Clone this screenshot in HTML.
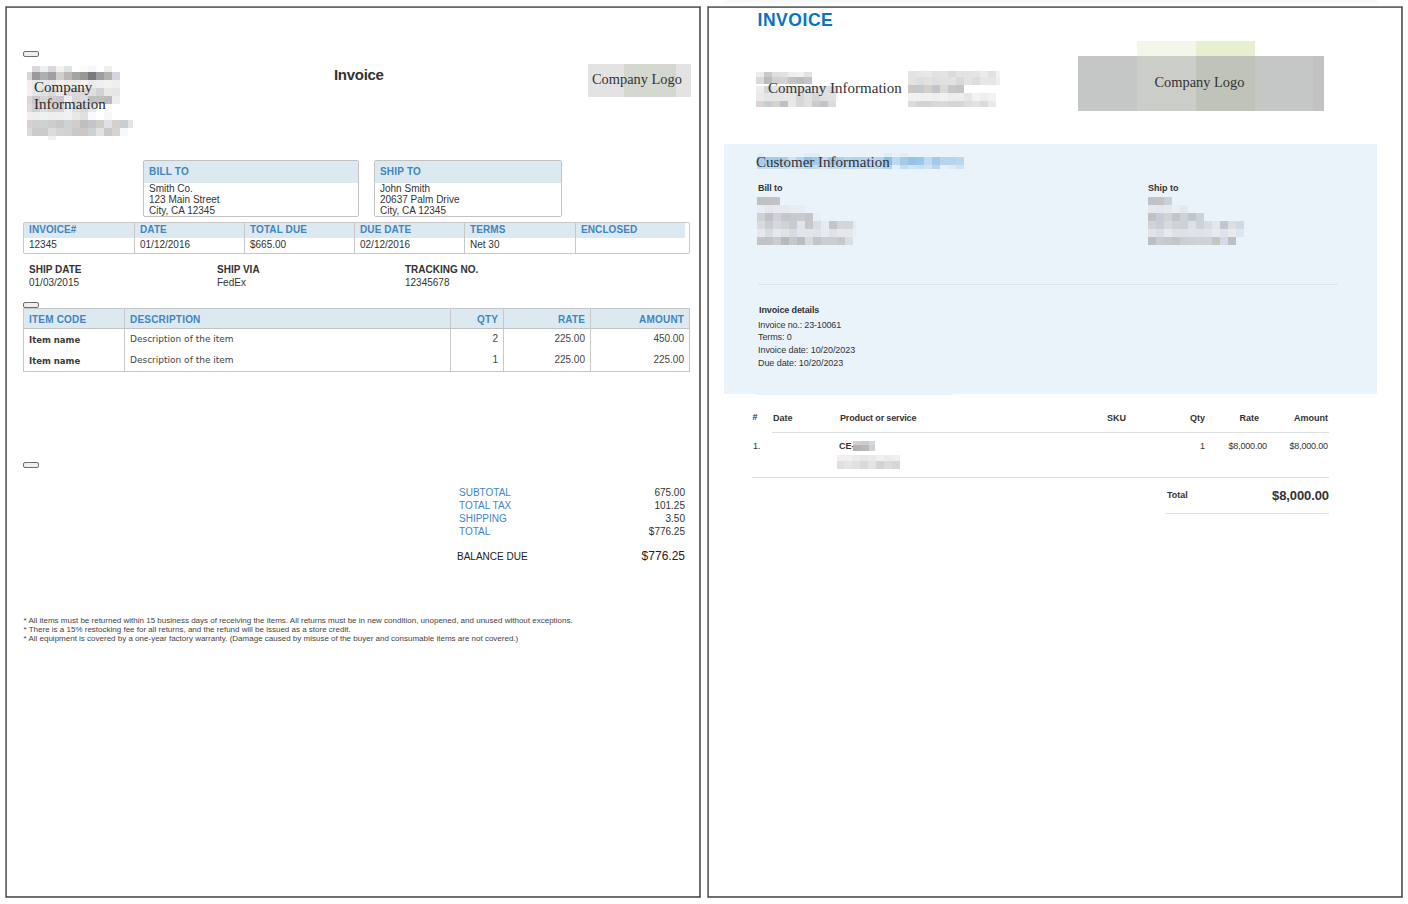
<!DOCTYPE html>
<html><head><meta charset="utf-8"><title>Invoice</title>
<style>
html,body{margin:0;padding:0;background:#fff;width:1408px;height:904px;overflow:hidden;position:relative}
.t{position:absolute;white-space:nowrap}
.r{position:absolute}
sup{line-height:0}
</style></head><body>
<div class="r" style="left:5px;top:6px;width:696px;height:892px;border:1px solid;border-color:#888 #727272 #727272 #888;border-radius:1px;box-sizing:border-box"></div>
<div class="r" style="left:6px;top:7px;width:694px;height:890px;border:1px solid #6a6a6a;box-sizing:border-box"></div>
<div class="r" style="left:6px;top:7px;width:1px;height:1px;background:#4a4a4a"></div>
<div class="r" style="left:699px;top:7px;width:1px;height:1px;background:#4a4a4a"></div>
<div class="r" style="left:6px;top:896px;width:1px;height:1px;background:#4a4a4a"></div>
<div class="r" style="left:699px;top:896px;width:1px;height:1px;background:#4a4a4a"></div>
<div class="r" style="left:707px;top:6px;width:696px;height:892px;border:1px solid;border-color:#888 #727272 #727272 #888;border-radius:1px;box-sizing:border-box"></div>
<div class="r" style="left:708px;top:7px;width:694px;height:890px;border:1px solid #6a6a6a;box-sizing:border-box"></div>
<div class="r" style="left:708px;top:7px;width:1px;height:1px;background:#4a4a4a"></div>
<div class="r" style="left:1401px;top:7px;width:1px;height:1px;background:#4a4a4a"></div>
<div class="r" style="left:708px;top:896px;width:1px;height:1px;background:#4a4a4a"></div>
<div class="r" style="left:1401px;top:896px;width:1px;height:1px;background:#4a4a4a"></div>
<div class="r" style="left:23px;top:51px;width:16px;height:6px;border:1px solid #6e6e6e;border-radius:2px;background:#efefef;box-sizing:border-box"></div>
<div class="r" style="left:23px;top:302px;width:16px;height:6px;border:1px solid #6e6e6e;border-radius:2px;background:#efefef;box-sizing:border-box"></div>
<div class="r" style="left:23px;top:462px;width:16px;height:6px;border:1px solid #6e6e6e;border-radius:2px;background:#efefef;box-sizing:border-box"></div>
<div class="r" style="left:32px;top:66px;width:8px;height:6px;background:#d9d7d9"></div>
<div class="r" style="left:40px;top:66px;width:8px;height:6px;background:#eef0f0"></div>
<div class="r" style="left:48px;top:66px;width:8px;height:6px;background:#d8d8d8"></div>
<div class="r" style="left:56px;top:66px;width:8px;height:6px;background:#f4f1ee"></div>
<div class="r" style="left:64px;top:66px;width:8px;height:6px;background:#dfe3e6"></div>
<div class="r" style="left:80px;top:66px;width:8px;height:6px;background:#fcfbfa"></div>
<div class="r" style="left:88px;top:66px;width:8px;height:6px;background:#f5f6f8"></div>
<div class="r" style="left:104px;top:66px;width:8px;height:6px;background:#efefee"></div>
<div class="r" style="left:27px;top:72px;width:5px;height:8px;background:#d9d5d4"></div>
<div class="r" style="left:32px;top:72px;width:8px;height:8px;background:#9c989c"></div>
<div class="r" style="left:40px;top:72px;width:8px;height:8px;background:#aeafb1"></div>
<div class="r" style="left:48px;top:72px;width:8px;height:8px;background:#a0a0a2"></div>
<div class="r" style="left:56px;top:72px;width:8px;height:8px;background:#d0cfcd"></div>
<div class="r" style="left:64px;top:72px;width:8px;height:8px;background:#bcb7b4"></div>
<div class="r" style="left:72px;top:72px;width:8px;height:8px;background:#a3a5a4"></div>
<div class="r" style="left:80px;top:72px;width:8px;height:8px;background:#9a9897"></div>
<div class="r" style="left:88px;top:72px;width:8px;height:8px;background:#7a7a7c"></div>
<div class="r" style="left:96px;top:72px;width:8px;height:8px;background:#9d9ea0"></div>
<div class="r" style="left:104px;top:72px;width:8px;height:8px;background:#b0b2ae"></div>
<div class="r" style="left:112px;top:72px;width:8px;height:8px;background:#d5d5df"></div>
<div class="r" style="left:27px;top:80px;width:5px;height:8px;background:#f3eeed"></div>
<div class="r" style="left:32px;top:80px;width:8px;height:8px;background:#e6e9eb"></div>
<div class="r" style="left:40px;top:80px;width:8px;height:8px;background:#e8e8e8"></div>
<div class="r" style="left:48px;top:80px;width:8px;height:8px;background:#e6e6e8"></div>
<div class="r" style="left:56px;top:80px;width:8px;height:8px;background:#efefef"></div>
<div class="r" style="left:64px;top:80px;width:8px;height:8px;background:#ebebeb"></div>
<div class="r" style="left:72px;top:80px;width:8px;height:8px;background:#ececec"></div>
<div class="r" style="left:80px;top:80px;width:8px;height:8px;background:#f2f2f3"></div>
<div class="r" style="left:88px;top:80px;width:8px;height:8px;background:#ebebeb"></div>
<div class="r" style="left:96px;top:80px;width:8px;height:8px;background:#eeeff1"></div>
<div class="r" style="left:104px;top:80px;width:8px;height:8px;background:#f2f2f0"></div>
<div class="r" style="left:112px;top:80px;width:8px;height:8px;background:#efeff1"></div>
<div class="r" style="left:27px;top:88px;width:5px;height:8px;background:#f7eeee"></div>
<div class="r" style="left:32px;top:88px;width:8px;height:8px;background:#e3e7ea"></div>
<div class="r" style="left:40px;top:88px;width:8px;height:8px;background:#e2e1df"></div>
<div class="r" style="left:48px;top:88px;width:8px;height:8px;background:#d9dadf"></div>
<div class="r" style="left:56px;top:88px;width:8px;height:8px;background:#e9e9e7"></div>
<div class="r" style="left:64px;top:88px;width:8px;height:8px;background:#dadadc"></div>
<div class="r" style="left:72px;top:88px;width:8px;height:8px;background:#d8d9dd"></div>
<div class="r" style="left:80px;top:88px;width:8px;height:8px;background:#dadadc"></div>
<div class="r" style="left:88px;top:88px;width:8px;height:8px;background:#dfdedb"></div>
<div class="r" style="left:96px;top:88px;width:8px;height:8px;background:#d2d2d4"></div>
<div class="r" style="left:104px;top:88px;width:8px;height:8px;background:#e7e8e7"></div>
<div class="r" style="left:112px;top:88px;width:8px;height:8px;background:#e6e6e8"></div>
<div class="r" style="left:27px;top:96px;width:5px;height:8px;background:#dcd7d7"></div>
<div class="r" style="left:32px;top:96px;width:8px;height:8px;background:#c9c8ca"></div>
<div class="r" style="left:40px;top:96px;width:8px;height:8px;background:#d2d6d8"></div>
<div class="r" style="left:48px;top:96px;width:8px;height:8px;background:#cfcdca"></div>
<div class="r" style="left:56px;top:96px;width:8px;height:8px;background:#c8c6d2"></div>
<div class="r" style="left:64px;top:96px;width:8px;height:8px;background:#eeeeee"></div>
<div class="r" style="left:72px;top:96px;width:8px;height:8px;background:#d5d5d5"></div>
<div class="r" style="left:80px;top:96px;width:8px;height:8px;background:#dedadb"></div>
<div class="r" style="left:88px;top:96px;width:8px;height:8px;background:#c0c0c0"></div>
<div class="r" style="left:96px;top:96px;width:8px;height:8px;background:#c0c0c0"></div>
<div class="r" style="left:104px;top:96px;width:8px;height:8px;background:#bcbbc1"></div>
<div class="r" style="left:112px;top:96px;width:8px;height:8px;background:#ebeeee"></div>
<div class="r" style="left:27px;top:104px;width:5px;height:8px;background:#e1dcdb"></div>
<div class="r" style="left:32px;top:104px;width:8px;height:8px;background:#cdd0d3"></div>
<div class="r" style="left:40px;top:104px;width:8px;height:8px;background:#dcdde0"></div>
<div class="r" style="left:48px;top:104px;width:8px;height:8px;background:#d6d3d1"></div>
<div class="r" style="left:56px;top:104px;width:8px;height:8px;background:#d3d4d9"></div>
<div class="r" style="left:64px;top:104px;width:8px;height:8px;background:#f2eeed"></div>
<div class="r" style="left:72px;top:104px;width:8px;height:8px;background:#dcdde2"></div>
<div class="r" style="left:80px;top:104px;width:8px;height:8px;background:#d8d8d6"></div>
<div class="r" style="left:88px;top:104px;width:8px;height:8px;background:#e7e7e7"></div>
<div class="r" style="left:27px;top:112px;width:5px;height:8px;background:#efefef"></div>
<div class="r" style="left:32px;top:112px;width:8px;height:8px;background:#eeeeee"></div>
<div class="r" style="left:40px;top:112px;width:8px;height:8px;background:#f0f1f1"></div>
<div class="r" style="left:48px;top:112px;width:8px;height:8px;background:#efeeed"></div>
<div class="r" style="left:56px;top:112px;width:8px;height:8px;background:#efefef"></div>
<div class="r" style="left:64px;top:112px;width:8px;height:8px;background:#f1f1f1"></div>
<div class="r" style="left:72px;top:112px;width:8px;height:8px;background:#e8e8e8"></div>
<div class="r" style="left:80px;top:112px;width:8px;height:8px;background:#e0e0e0"></div>
<div class="r" style="left:88px;top:112px;width:8px;height:8px;background:#f8f9fb"></div>
<div class="r" style="left:104px;top:112px;width:8px;height:8px;background:#f7f7f7"></div>
<div class="r" style="left:27px;top:120px;width:5px;height:8px;background:#dacfd3"></div>
<div class="r" style="left:32px;top:120px;width:8px;height:8px;background:#d0d0d0"></div>
<div class="r" style="left:40px;top:120px;width:8px;height:8px;background:#ced2d3"></div>
<div class="r" style="left:48px;top:120px;width:8px;height:8px;background:#cdcbcc"></div>
<div class="r" style="left:56px;top:120px;width:8px;height:8px;background:#c8c8c8"></div>
<div class="r" style="left:64px;top:120px;width:8px;height:8px;background:#ced2d4"></div>
<div class="r" style="left:72px;top:120px;width:8px;height:8px;background:#d0cdcc"></div>
<div class="r" style="left:80px;top:120px;width:8px;height:8px;background:#bfbfbf"></div>
<div class="r" style="left:88px;top:120px;width:8px;height:8px;background:#c6c4c9"></div>
<div class="r" style="left:96px;top:120px;width:8px;height:8px;background:#d0ccca"></div>
<div class="r" style="left:104px;top:120px;width:8px;height:8px;background:#e0e0e6"></div>
<div class="r" style="left:112px;top:120px;width:8px;height:8px;background:#d3d1cf"></div>
<div class="r" style="left:120px;top:120px;width:8px;height:8px;background:#c9ced2"></div>
<div class="r" style="left:128px;top:120px;width:5px;height:8px;background:#e3e4e6"></div>
<div class="r" style="left:27px;top:128px;width:5px;height:8px;background:#dddcda"></div>
<div class="r" style="left:32px;top:128px;width:8px;height:8px;background:#cbcbcb"></div>
<div class="r" style="left:40px;top:128px;width:8px;height:8px;background:#cacbcd"></div>
<div class="r" style="left:48px;top:128px;width:8px;height:8px;background:#dfdbdc"></div>
<div class="r" style="left:56px;top:128px;width:8px;height:8px;background:#d4d4d4"></div>
<div class="r" style="left:64px;top:128px;width:8px;height:8px;background:#cfd3d4"></div>
<div class="r" style="left:72px;top:128px;width:8px;height:8px;background:#c9c9cb"></div>
<div class="r" style="left:80px;top:128px;width:8px;height:8px;background:#cdc8c5"></div>
<div class="r" style="left:88px;top:128px;width:8px;height:8px;background:#cdd1d2"></div>
<div class="r" style="left:96px;top:128px;width:8px;height:8px;background:#e3e2e0"></div>
<div class="r" style="left:104px;top:128px;width:8px;height:8px;background:#c9c9c9"></div>
<div class="r" style="left:112px;top:128px;width:8px;height:8px;background:#d5d4d2"></div>
<div class="r" style="left:120px;top:128px;width:8px;height:8px;background:#f5f9fc"></div>
<div class="r" style="left:48px;top:136px;width:8px;height:4px;background:#f0f0f0"></div>
<div class="t" style="left:34px;top:80px;font-family:'Liberation Serif', 'Times New Roman', serif;font-size:15px;line-height:15px;font-weight:normal;color:#2a2a2a;">Company</div>
<div class="t" style="left:34px;top:97px;font-family:'Liberation Serif', 'Times New Roman', serif;font-size:15px;line-height:15px;font-weight:normal;color:#2a2a2a;">Information</div>
<div class="t" style="left:334px;top:67px;font-family:'Liberation Sans', Arial, sans-serif;font-size:15px;line-height:15px;font-weight:bold;color:#333;letter-spacing:-0.3px">Invoice</div>
<div class="r" style="left:588px;top:64px;width:103px;height:33px;background:#e3e3e3"></div>
<div class="r" style="left:624px;top:64px;width:52px;height:33px;background:#d5d8d0"></div>
<div class="t" style="left:592px;top:72px;font-family:'Liberation Serif', 'Times New Roman', serif;font-size:14.4px;line-height:14.4px;font-weight:normal;color:#333;">Company Logo</div>
<div class="r" style="left:143px;top:160px;width:216px;height:57px;border:1px solid #c2c2c2;border-radius:2px;box-sizing:border-box;background:#fff"></div>
<div class="r" style="left:144px;top:161px;width:214px;height:22px;background:#dde9f1"></div>
<div class="t" style="left:149px;top:167px;font-family:'Liberation Sans', Arial, sans-serif;font-size:10px;line-height:10px;font-weight:bold;color:#4185bf;letter-spacing:0.2px">BILL TO</div>
<div class="t" style="left:149px;top:184px;font-family:'Liberation Sans', Arial, sans-serif;font-size:10px;line-height:10px;font-weight:normal;color:#333;">Smith Co.</div>
<div class="t" style="left:149px;top:195px;font-family:'Liberation Sans', Arial, sans-serif;font-size:10px;line-height:10px;font-weight:normal;color:#333;">123 Main Street</div>
<div class="t" style="left:149px;top:206px;font-family:'Liberation Sans', Arial, sans-serif;font-size:10px;line-height:10px;font-weight:normal;color:#333;">City, CA 12345</div>
<div class="r" style="left:374px;top:160px;width:188px;height:57px;border:1px solid #c2c2c2;border-radius:2px;box-sizing:border-box;background:#fff"></div>
<div class="r" style="left:375px;top:161px;width:186px;height:22px;background:#dde9f1"></div>
<div class="t" style="left:380px;top:167px;font-family:'Liberation Sans', Arial, sans-serif;font-size:10px;line-height:10px;font-weight:bold;color:#4185bf;letter-spacing:0.2px">SHIP TO</div>
<div class="t" style="left:380px;top:184px;font-family:'Liberation Sans', Arial, sans-serif;font-size:10px;line-height:10px;font-weight:normal;color:#333;">John Smith</div>
<div class="t" style="left:380px;top:195px;font-family:'Liberation Sans', Arial, sans-serif;font-size:10px;line-height:10px;font-weight:normal;color:#333;">20637 Palm Drive</div>
<div class="t" style="left:380px;top:206px;font-family:'Liberation Sans', Arial, sans-serif;font-size:10px;line-height:10px;font-weight:normal;color:#333;">City, CA 12345</div>
<div class="r" style="left:23px;top:222px;width:667px;height:32px;border:1px solid #c9c9c9;border-radius:2px;box-sizing:border-box"></div>
<div class="r" style="left:24px;top:223px;width:661px;height:15px;background:#dde9f1"></div>
<div class="t" style="left:29px;top:225px;font-family:'Liberation Sans', Arial, sans-serif;font-size:10px;line-height:10px;font-weight:bold;color:#4185bf;letter-spacing:0.1px">INVOICE#</div>
<div class="t" style="left:29px;top:240px;font-family:'Liberation Sans', Arial, sans-serif;font-size:10px;line-height:10px;font-weight:normal;color:#333;">12345</div>
<div class="r" style="left:134px;top:223px;width:1px;height:30px;background:#c8c8c8"></div>
<div class="t" style="left:140px;top:225px;font-family:'Liberation Sans', Arial, sans-serif;font-size:10px;line-height:10px;font-weight:bold;color:#4185bf;letter-spacing:0.1px">DATE</div>
<div class="t" style="left:140px;top:240px;font-family:'Liberation Sans', Arial, sans-serif;font-size:10px;line-height:10px;font-weight:normal;color:#333;">01/12/2016</div>
<div class="r" style="left:244px;top:223px;width:1px;height:30px;background:#c8c8c8"></div>
<div class="t" style="left:250px;top:225px;font-family:'Liberation Sans', Arial, sans-serif;font-size:10px;line-height:10px;font-weight:bold;color:#4185bf;letter-spacing:0.1px">TOTAL DUE</div>
<div class="t" style="left:250px;top:240px;font-family:'Liberation Sans', Arial, sans-serif;font-size:10px;line-height:10px;font-weight:normal;color:#333;">$665.00</div>
<div class="r" style="left:354px;top:223px;width:1px;height:30px;background:#c8c8c8"></div>
<div class="t" style="left:360px;top:225px;font-family:'Liberation Sans', Arial, sans-serif;font-size:10px;line-height:10px;font-weight:bold;color:#4185bf;letter-spacing:0.1px">DUE DATE</div>
<div class="t" style="left:360px;top:240px;font-family:'Liberation Sans', Arial, sans-serif;font-size:10px;line-height:10px;font-weight:normal;color:#333;">02/12/2016</div>
<div class="r" style="left:464px;top:223px;width:1px;height:30px;background:#c8c8c8"></div>
<div class="t" style="left:470px;top:225px;font-family:'Liberation Sans', Arial, sans-serif;font-size:10px;line-height:10px;font-weight:bold;color:#4185bf;letter-spacing:0.1px">TERMS</div>
<div class="t" style="left:470px;top:240px;font-family:'Liberation Sans', Arial, sans-serif;font-size:10px;line-height:10px;font-weight:normal;color:#333;">Net 30</div>
<div class="r" style="left:575px;top:223px;width:1px;height:30px;background:#c8c8c8"></div>
<div class="t" style="left:581px;top:225px;font-family:'Liberation Sans', Arial, sans-serif;font-size:10px;line-height:10px;font-weight:bold;color:#4185bf;letter-spacing:0.1px">ENCLOSED</div>
<div class="t" style="left:581px;top:240px;font-family:'Liberation Sans', Arial, sans-serif;font-size:10px;line-height:10px;font-weight:normal;color:#333;"></div>
<div class="t" style="left:29px;top:265px;font-family:'Liberation Sans', Arial, sans-serif;font-size:10px;line-height:10px;font-weight:bold;color:#333;">SHIP DATE</div>
<div class="t" style="left:29px;top:278px;font-family:'Liberation Sans', Arial, sans-serif;font-size:10px;line-height:10px;font-weight:normal;color:#333;">01/03/2015</div>
<div class="t" style="left:217px;top:265px;font-family:'Liberation Sans', Arial, sans-serif;font-size:10px;line-height:10px;font-weight:bold;color:#333;">SHIP VIA</div>
<div class="t" style="left:217px;top:278px;font-family:'Liberation Sans', Arial, sans-serif;font-size:10px;line-height:10px;font-weight:normal;color:#333;">FedEx</div>
<div class="t" style="left:405px;top:265px;font-family:'Liberation Sans', Arial, sans-serif;font-size:10px;line-height:10px;font-weight:bold;color:#333;">TRACKING NO.</div>
<div class="t" style="left:405px;top:278px;font-family:'Liberation Sans', Arial, sans-serif;font-size:10px;line-height:10px;font-weight:normal;color:#333;">12345678</div>
<div class="r" style="left:23px;top:308px;width:667px;height:64px;border:1px solid #c6c6c6;box-sizing:border-box"></div>
<div class="r" style="left:24px;top:309px;width:665px;height:19px;background:#dde9f1;border-bottom:1px solid #c2c2c2"></div>
<div class="r" style="left:124px;top:309px;width:1px;height:62px;background:#c8c8c8"></div>
<div class="r" style="left:450px;top:309px;width:1px;height:62px;background:#c8c8c8"></div>
<div class="r" style="left:503px;top:309px;width:1px;height:62px;background:#c8c8c8"></div>
<div class="r" style="left:590px;top:309px;width:1px;height:62px;background:#c8c8c8"></div>
<div class="t" style="left:29px;top:315px;font-family:'Liberation Sans', Arial, sans-serif;font-size:10px;line-height:10px;font-weight:bold;color:#4185bf;letter-spacing:0.2px">ITEM CODE</div>
<div class="t" style="left:130px;top:315px;font-family:'Liberation Sans', Arial, sans-serif;font-size:10px;line-height:10px;font-weight:bold;color:#4185bf;letter-spacing:0.2px">DESCRIPTION</div>
<div class="t" style="right:910px;top:315px;font-family:'Liberation Sans', Arial, sans-serif;font-size:10px;line-height:10px;font-weight:bold;color:#4185bf;letter-spacing:0.2px;margin-right:-0.2px">QTY</div>
<div class="t" style="right:823px;top:315px;font-family:'Liberation Sans', Arial, sans-serif;font-size:10px;line-height:10px;font-weight:bold;color:#4185bf;letter-spacing:0.2px;margin-right:-0.2px">RATE</div>
<div class="t" style="right:724px;top:315px;font-family:'Liberation Sans', Arial, sans-serif;font-size:10px;line-height:10px;font-weight:bold;color:#4185bf;letter-spacing:0.2px;margin-right:-0.2px">AMOUNT</div>
<div class="t" style="left:29px;top:336px;font-family:'DejaVu Sans', sans-serif;font-size:8.5px;line-height:8.5px;font-weight:bold;color:#3a3a3a;">Item name</div>
<div class="t" style="left:130px;top:335px;font-family:'DejaVu Sans', sans-serif;font-size:9px;line-height:9px;font-weight:normal;color:#444;">Description of the item</div>
<div class="t" style="right:910px;top:334px;font-family:'Liberation Sans', Arial, sans-serif;font-size:10px;line-height:10px;font-weight:normal;color:#444;">2</div>
<div class="t" style="right:823px;top:334px;font-family:'Liberation Sans', Arial, sans-serif;font-size:10px;line-height:10px;font-weight:normal;color:#444;">225.00</div>
<div class="t" style="right:724px;top:334px;font-family:'Liberation Sans', Arial, sans-serif;font-size:10px;line-height:10px;font-weight:normal;color:#444;">450.00</div>
<div class="t" style="left:29px;top:357px;font-family:'DejaVu Sans', sans-serif;font-size:8.5px;line-height:8.5px;font-weight:bold;color:#3a3a3a;">Item name</div>
<div class="t" style="left:130px;top:356px;font-family:'DejaVu Sans', sans-serif;font-size:9px;line-height:9px;font-weight:normal;color:#444;">Description of the item</div>
<div class="t" style="right:910px;top:355px;font-family:'Liberation Sans', Arial, sans-serif;font-size:10px;line-height:10px;font-weight:normal;color:#444;">1</div>
<div class="t" style="right:823px;top:355px;font-family:'Liberation Sans', Arial, sans-serif;font-size:10px;line-height:10px;font-weight:normal;color:#444;">225.00</div>
<div class="t" style="right:724px;top:355px;font-family:'Liberation Sans', Arial, sans-serif;font-size:10px;line-height:10px;font-weight:normal;color:#444;">225.00</div>
<div class="t" style="left:459px;top:488px;font-family:'Liberation Sans', Arial, sans-serif;font-size:10px;line-height:10px;font-weight:normal;color:#4185bf;">SUBTOTAL</div>
<div class="t" style="right:723px;top:488px;font-family:'Liberation Sans', Arial, sans-serif;font-size:10px;line-height:10px;font-weight:normal;color:#333;">675.00</div>
<div class="t" style="left:459px;top:501px;font-family:'Liberation Sans', Arial, sans-serif;font-size:10px;line-height:10px;font-weight:normal;color:#4185bf;">TOTAL TAX</div>
<div class="t" style="right:723px;top:501px;font-family:'Liberation Sans', Arial, sans-serif;font-size:10px;line-height:10px;font-weight:normal;color:#333;">101.25</div>
<div class="t" style="left:459px;top:514px;font-family:'Liberation Sans', Arial, sans-serif;font-size:10px;line-height:10px;font-weight:normal;color:#4185bf;">SHIPPING</div>
<div class="t" style="right:723px;top:514px;font-family:'Liberation Sans', Arial, sans-serif;font-size:10px;line-height:10px;font-weight:normal;color:#333;">3.50</div>
<div class="t" style="left:459px;top:527px;font-family:'Liberation Sans', Arial, sans-serif;font-size:10px;line-height:10px;font-weight:normal;color:#4185bf;">TOTAL</div>
<div class="t" style="right:723px;top:527px;font-family:'Liberation Sans', Arial, sans-serif;font-size:10px;line-height:10px;font-weight:normal;color:#333;">$776.25</div>
<div class="t" style="left:457px;top:552px;font-family:'Liberation Sans', Arial, sans-serif;font-size:10px;line-height:10px;font-weight:normal;color:#222;">BALANCE DUE</div>
<div class="t" style="right:723px;top:550px;font-family:'Liberation Sans', Arial, sans-serif;font-size:12px;line-height:12px;font-weight:normal;color:#222;">$776.25</div>
<div class="t" style="left:23.5px;top:617px;font-family:'Liberation Sans', Arial, sans-serif;font-size:8px;line-height:8px;font-weight:normal;color:#444;">* All items must be returned within 15 business days of receiving the items. All returns must be in new condition, unopened, and unused without exceptions.</div>
<div class="t" style="left:23.5px;top:626px;font-family:'Liberation Sans', Arial, sans-serif;font-size:8px;line-height:8px;font-weight:normal;color:#444;">* There is a 15% restocking fee for all returns, and the refund will be issued as a store credit.</div>
<div class="t" style="left:23.5px;top:635px;font-family:'Liberation Sans', Arial, sans-serif;font-size:8px;line-height:8px;font-weight:normal;color:#444;">* All equipment is covered by a one-year factory warranty. (Damage caused by misuse of the buyer and consumable items are not covered.)</div>
<div class="r" style="left:724px;top:0px;width:653px;height:5px;background:linear-gradient(#f7f7f7,#f9f9f9 40%,#fdfdfd)"></div>
<div class="t" style="left:757.5px;top:12px;font-family:'Liberation Sans', Arial, sans-serif;font-size:17.5px;line-height:17.5px;font-weight:bold;color:#0a72c5;letter-spacing:0.55px">INVOICE</div>
<div class="r" style="left:756px;top:72px;width:8px;height:5px;background:#efecea"></div>
<div class="r" style="left:764px;top:72px;width:8px;height:5px;background:#c9cace"></div>
<div class="r" style="left:772px;top:72px;width:8px;height:5px;background:#dfdfdf"></div>
<div class="r" style="left:780px;top:72px;width:8px;height:5px;background:#dfe2e6"></div>
<div class="r" style="left:788px;top:72px;width:8px;height:5px;background:#efeeec"></div>
<div class="r" style="left:796px;top:72px;width:8px;height:5px;background:#eff3f6"></div>
<div class="r" style="left:804px;top:72px;width:8px;height:5px;background:#e3e3e5"></div>
<div class="r" style="left:756px;top:77px;width:8px;height:7px;background:#dcd8d5"></div>
<div class="r" style="left:764px;top:77px;width:8px;height:7px;background:#b9bbbf"></div>
<div class="r" style="left:772px;top:77px;width:8px;height:7px;background:#d0d1d3"></div>
<div class="r" style="left:780px;top:77px;width:8px;height:7px;background:#d6d2cf"></div>
<div class="r" style="left:788px;top:77px;width:8px;height:7px;background:#c2c2c2"></div>
<div class="r" style="left:796px;top:77px;width:8px;height:7px;background:#bdbcc1"></div>
<div class="r" style="left:804px;top:77px;width:8px;height:7px;background:#c0c4c7"></div>
<div class="r" style="left:756px;top:86px;width:8px;height:7px;background:#eeeded"></div>
<div class="r" style="left:764px;top:86px;width:8px;height:7px;background:#d6d6d6"></div>
<div class="r" style="left:772px;top:86px;width:8px;height:7px;background:#e3e4e6"></div>
<div class="r" style="left:780px;top:86px;width:8px;height:7px;background:#e0e2e6"></div>
<div class="r" style="left:788px;top:86px;width:8px;height:7px;background:#e4e6e8"></div>
<div class="r" style="left:796px;top:86px;width:8px;height:7px;background:#dcdee0"></div>
<div class="r" style="left:804px;top:86px;width:8px;height:7px;background:#e2e4e6"></div>
<div class="r" style="left:812px;top:86px;width:8px;height:7px;background:#e3e5e7"></div>
<div class="r" style="left:820px;top:86px;width:8px;height:7px;background:#dfe0e2"></div>
<div class="r" style="left:828px;top:86px;width:8px;height:7px;background:#dddbda"></div>
<div class="r" style="left:756px;top:93px;width:8px;height:8px;background:#ece8e8"></div>
<div class="r" style="left:764px;top:93px;width:8px;height:8px;background:#e3e6e6"></div>
<div class="r" style="left:772px;top:93px;width:8px;height:8px;background:#e4e6e6"></div>
<div class="r" style="left:780px;top:93px;width:8px;height:8px;background:#e5e6e6"></div>
<div class="r" style="left:788px;top:93px;width:8px;height:8px;background:#e6e6e6"></div>
<div class="r" style="left:796px;top:93px;width:8px;height:8px;background:#d6d6d6"></div>
<div class="r" style="left:804px;top:93px;width:8px;height:8px;background:#dfe0e2"></div>
<div class="r" style="left:812px;top:93px;width:8px;height:8px;background:#d6d6d6"></div>
<div class="r" style="left:820px;top:93px;width:8px;height:8px;background:#dfe0e2"></div>
<div class="r" style="left:828px;top:93px;width:8px;height:8px;background:#e3e1e0"></div>
<div class="r" style="left:836px;top:93px;width:3px;height:8px;background:#f2f8fc"></div>
<div class="r" style="left:756px;top:101px;width:8px;height:6px;background:#d7d6d4"></div>
<div class="r" style="left:764px;top:101px;width:8px;height:6px;background:#c9cdcf"></div>
<div class="r" style="left:772px;top:101px;width:8px;height:6px;background:#d6d2cf"></div>
<div class="r" style="left:780px;top:101px;width:8px;height:6px;background:#bdc0c4"></div>
<div class="r" style="left:788px;top:101px;width:8px;height:6px;background:#e8e8e8"></div>
<div class="r" style="left:796px;top:101px;width:8px;height:6px;background:#d5d9dc"></div>
<div class="r" style="left:804px;top:101px;width:8px;height:6px;background:#e0e0e0"></div>
<div class="r" style="left:812px;top:101px;width:8px;height:6px;background:#cecaca"></div>
<div class="r" style="left:820px;top:101px;width:8px;height:6px;background:#c3c4c8"></div>
<div class="r" style="left:828px;top:101px;width:8px;height:6px;background:#d6dce0"></div>
<div class="r" style="left:908px;top:71px;width:8px;height:6px;background:#e6e3e2"></div>
<div class="r" style="left:916px;top:71px;width:8px;height:6px;background:#e6e6e6"></div>
<div class="r" style="left:924px;top:71px;width:8px;height:6px;background:#e8e8e8"></div>
<div class="r" style="left:932px;top:71px;width:8px;height:6px;background:#e2e2e2"></div>
<div class="r" style="left:940px;top:71px;width:8px;height:6px;background:#e3e3e3"></div>
<div class="r" style="left:948px;top:71px;width:8px;height:6px;background:#dcdad9"></div>
<div class="r" style="left:956px;top:71px;width:8px;height:6px;background:#e2e3e5"></div>
<div class="r" style="left:964px;top:71px;width:8px;height:6px;background:#e3e3e3"></div>
<div class="r" style="left:972px;top:71px;width:8px;height:6px;background:#e4e5e7"></div>
<div class="r" style="left:980px;top:71px;width:8px;height:6px;background:#ebebeb"></div>
<div class="r" style="left:988px;top:71px;width:8px;height:6px;background:#e1e1e1"></div>
<div class="r" style="left:996px;top:71px;width:4px;height:6px;background:#f0f2f7"></div>
<div class="r" style="left:908px;top:77px;width:8px;height:8px;background:#e7e2e0"></div>
<div class="r" style="left:916px;top:77px;width:8px;height:8px;background:#dddee0"></div>
<div class="r" style="left:924px;top:77px;width:8px;height:8px;background:#e1e1e1"></div>
<div class="r" style="left:932px;top:77px;width:8px;height:8px;background:#dedede"></div>
<div class="r" style="left:940px;top:77px;width:8px;height:8px;background:#e0e1e3"></div>
<div class="r" style="left:948px;top:77px;width:8px;height:8px;background:#e4e2e1"></div>
<div class="r" style="left:956px;top:77px;width:8px;height:8px;background:#d9d9d9"></div>
<div class="r" style="left:964px;top:77px;width:8px;height:8px;background:#e3e3e5"></div>
<div class="r" style="left:972px;top:77px;width:8px;height:8px;background:#dddde0"></div>
<div class="r" style="left:980px;top:77px;width:8px;height:8px;background:#e7e7e7"></div>
<div class="r" style="left:988px;top:77px;width:8px;height:8px;background:#e5e6e8"></div>
<div class="r" style="left:996px;top:77px;width:4px;height:8px;background:#ededf0"></div>
<div class="r" style="left:908px;top:85px;width:8px;height:8px;background:#c8c7c6"></div>
<div class="r" style="left:916px;top:85px;width:8px;height:8px;background:#c6c8cb"></div>
<div class="r" style="left:924px;top:85px;width:8px;height:8px;background:#d1d0cc"></div>
<div class="r" style="left:932px;top:85px;width:8px;height:8px;background:#c3c4c9"></div>
<div class="r" style="left:940px;top:85px;width:8px;height:8px;background:#dcd8d5"></div>
<div class="r" style="left:948px;top:85px;width:8px;height:8px;background:#c6c7ca"></div>
<div class="r" style="left:956px;top:85px;width:8px;height:8px;background:#c1c5c8"></div>
<div class="r" style="left:908px;top:93px;width:8px;height:8px;background:#f2f1f0"></div>
<div class="r" style="left:916px;top:93px;width:8px;height:8px;background:#eff0f2"></div>
<div class="r" style="left:924px;top:93px;width:8px;height:8px;background:#f1f1f1"></div>
<div class="r" style="left:932px;top:93px;width:8px;height:8px;background:#efeeec"></div>
<div class="r" style="left:940px;top:93px;width:8px;height:8px;background:#f1f1f1"></div>
<div class="r" style="left:948px;top:93px;width:8px;height:8px;background:#eceeed"></div>
<div class="r" style="left:956px;top:93px;width:8px;height:8px;background:#eeeeec"></div>
<div class="r" style="left:964px;top:93px;width:8px;height:8px;background:#e6e6e6"></div>
<div class="r" style="left:972px;top:93px;width:8px;height:8px;background:#f2f4f3"></div>
<div class="r" style="left:980px;top:93px;width:8px;height:8px;background:#eeeeec"></div>
<div class="r" style="left:988px;top:93px;width:8px;height:8px;background:#f1f2f4"></div>
<div class="r" style="left:908px;top:101px;width:8px;height:6px;background:#dcdcdc"></div>
<div class="r" style="left:916px;top:101px;width:8px;height:6px;background:#d6d4d3"></div>
<div class="r" style="left:924px;top:101px;width:8px;height:6px;background:#d3d4d8"></div>
<div class="r" style="left:932px;top:101px;width:8px;height:6px;background:#dad8d7"></div>
<div class="r" style="left:940px;top:101px;width:8px;height:6px;background:#dadadc"></div>
<div class="r" style="left:948px;top:101px;width:8px;height:6px;background:#d5d6da"></div>
<div class="r" style="left:956px;top:101px;width:8px;height:6px;background:#d9d5d2"></div>
<div class="r" style="left:964px;top:101px;width:8px;height:6px;background:#dedee0"></div>
<div class="r" style="left:972px;top:101px;width:8px;height:6px;background:#dfe3e6"></div>
<div class="r" style="left:980px;top:101px;width:8px;height:6px;background:#dadada"></div>
<div class="r" style="left:988px;top:101px;width:8px;height:6px;background:#e8e9eb"></div>
<div class="t" style="left:768px;top:81px;font-family:'Liberation Serif', 'Times New Roman', serif;font-size:15px;line-height:15px;font-weight:normal;color:#333;">Company Information</div>
<div class="r" style="left:1137px;top:41px;width:59px;height:15px;background:#f3f7ea"></div>
<div class="r" style="left:1196px;top:41px;width:59px;height:15px;background:#e6efd0"></div>
<div class="r" style="left:1078px;top:56px;width:246px;height:55px;background:#c5c6c6"></div>
<div class="r" style="left:1137px;top:56px;width:59px;height:55px;background:#cbcec8"></div>
<div class="r" style="left:1196px;top:56px;width:59px;height:55px;background:#c0c3b9"></div>
<div class="r" style="left:1313px;top:56px;width:11px;height:55px;background:#c2c2c2"></div>
<div class="t" style="left:1154.5px;top:75px;font-family:'Liberation Serif', 'Times New Roman', serif;font-size:14.4px;line-height:14.4px;font-weight:normal;color:#333;">Company Logo</div>
<div class="r" style="left:724px;top:144px;width:653px;height:250px;background:#eaf2fa"></div>
<div class="r" style="left:757px;top:394px;width:196px;height:1px;background:#e9f1f9"></div>
<div class="r" style="left:757px;top:153px;width:7px;height:4px;background:#e0edf7"></div>
<div class="r" style="left:804px;top:153px;width:8px;height:4px;background:#e0edf7"></div>
<div class="r" style="left:812px;top:153px;width:8px;height:4px;background:#e0edf7"></div>
<div class="r" style="left:884px;top:153px;width:8px;height:4px;background:#e1edf7"></div>
<div class="r" style="left:892px;top:153px;width:8px;height:4px;background:#e8f1f9"></div>
<div class="r" style="left:900px;top:153px;width:8px;height:4px;background:#e1edf7"></div>
<div class="r" style="left:757px;top:157px;width:7px;height:8px;background:#a9cde9"></div>
<div class="r" style="left:764px;top:157px;width:8px;height:8px;background:#a5cbe8"></div>
<div class="r" style="left:772px;top:157px;width:8px;height:8px;background:#a2c9e8"></div>
<div class="r" style="left:780px;top:157px;width:8px;height:8px;background:#a9cde9"></div>
<div class="r" style="left:788px;top:157px;width:8px;height:8px;background:#d0e4f3"></div>
<div class="r" style="left:796px;top:157px;width:8px;height:8px;background:#b7d6ee"></div>
<div class="r" style="left:804px;top:157px;width:8px;height:8px;background:#92c3e6"></div>
<div class="r" style="left:812px;top:157px;width:8px;height:8px;background:#a3cbea"></div>
<div class="r" style="left:820px;top:157px;width:8px;height:8px;background:#c5dcf0"></div>
<div class="r" style="left:828px;top:157px;width:8px;height:8px;background:#9dc7e8"></div>
<div class="r" style="left:836px;top:157px;width:8px;height:8px;background:#a9cde9"></div>
<div class="r" style="left:844px;top:157px;width:8px;height:8px;background:#b8d6ee"></div>
<div class="r" style="left:852px;top:157px;width:8px;height:8px;background:#b3d3ec"></div>
<div class="r" style="left:860px;top:157px;width:8px;height:8px;background:#b5d4ed"></div>
<div class="r" style="left:868px;top:157px;width:8px;height:8px;background:#b7d5ee"></div>
<div class="r" style="left:876px;top:157px;width:8px;height:8px;background:#b7d5ee"></div>
<div class="r" style="left:884px;top:157px;width:8px;height:8px;background:#8fc0e4"></div>
<div class="r" style="left:892px;top:157px;width:8px;height:8px;background:#bcd9ef"></div>
<div class="r" style="left:900px;top:157px;width:8px;height:8px;background:#a6cbe8"></div>
<div class="r" style="left:908px;top:157px;width:8px;height:8px;background:#93c4e7"></div>
<div class="r" style="left:916px;top:157px;width:8px;height:8px;background:#9ac8e9"></div>
<div class="r" style="left:924px;top:157px;width:8px;height:8px;background:#c3d9ef"></div>
<div class="r" style="left:932px;top:157px;width:8px;height:8px;background:#a3cae8"></div>
<div class="r" style="left:940px;top:157px;width:8px;height:8px;background:#b6d4ec"></div>
<div class="r" style="left:948px;top:157px;width:8px;height:8px;background:#b6d4ec"></div>
<div class="r" style="left:956px;top:157px;width:8px;height:8px;background:#b9d8ef"></div>
<div class="r" style="left:757px;top:165px;width:7px;height:4px;background:#c0dbef"></div>
<div class="r" style="left:764px;top:165px;width:8px;height:4px;background:#c2dcf0"></div>
<div class="r" style="left:772px;top:165px;width:8px;height:4px;background:#c2dcf0"></div>
<div class="r" style="left:780px;top:165px;width:8px;height:4px;background:#c4ddf0"></div>
<div class="r" style="left:788px;top:165px;width:8px;height:4px;background:#cfe4f4"></div>
<div class="r" style="left:796px;top:165px;width:8px;height:4px;background:#c6def1"></div>
<div class="r" style="left:804px;top:165px;width:8px;height:4px;background:#bcd8ee"></div>
<div class="r" style="left:812px;top:165px;width:8px;height:4px;background:#c2dcf0"></div>
<div class="r" style="left:820px;top:165px;width:8px;height:4px;background:#d8e8f5"></div>
<div class="r" style="left:828px;top:165px;width:8px;height:4px;background:#c0daef"></div>
<div class="r" style="left:836px;top:165px;width:8px;height:4px;background:#c2dcf0"></div>
<div class="r" style="left:844px;top:165px;width:8px;height:4px;background:#c8dff2"></div>
<div class="r" style="left:852px;top:165px;width:8px;height:4px;background:#c4ddf0"></div>
<div class="r" style="left:860px;top:165px;width:8px;height:4px;background:#c4ddf0"></div>
<div class="r" style="left:868px;top:165px;width:8px;height:4px;background:#c2dcf0"></div>
<div class="r" style="left:876px;top:165px;width:8px;height:4px;background:#c2dcf0"></div>
<div class="r" style="left:884px;top:165px;width:8px;height:4px;background:#b0d1ec"></div>
<div class="r" style="left:892px;top:165px;width:8px;height:4px;background:#e3eef7"></div>
<div class="r" style="left:900px;top:165px;width:8px;height:4px;background:#c4dbf0"></div>
<div class="r" style="left:908px;top:165px;width:8px;height:4px;background:#cfe3f3"></div>
<div class="r" style="left:916px;top:165px;width:8px;height:4px;background:#c8def2"></div>
<div class="r" style="left:924px;top:165px;width:8px;height:4px;background:#d2e4f3"></div>
<div class="r" style="left:932px;top:165px;width:8px;height:4px;background:#bad6ee"></div>
<div class="r" style="left:940px;top:165px;width:8px;height:4px;background:#e5eff8"></div>
<div class="r" style="left:948px;top:165px;width:8px;height:4px;background:#dceaf6"></div>
<div class="r" style="left:956px;top:165px;width:8px;height:4px;background:#cde2f3"></div>
<div class="t" style="left:756px;top:155px;font-family:'Liberation Serif', 'Times New Roman', serif;font-size:15px;line-height:15px;font-weight:normal;color:#333;">Customer Information</div>
<div class="t" style="left:758px;top:184px;font-family:'Liberation Sans', Arial, sans-serif;font-size:9px;line-height:9px;font-weight:bold;color:#333;letter-spacing:-0.1px">Bill to</div>
<div class="t" style="left:1148px;top:184px;font-family:'Liberation Sans', Arial, sans-serif;font-size:9px;line-height:9px;font-weight:bold;color:#333;">Ship to</div>
<div class="r" style="left:757px;top:197px;width:8px;height:8px;background:#c0c1c6"></div>
<div class="r" style="left:765px;top:197px;width:8px;height:8px;background:#c1c0c2"></div>
<div class="r" style="left:773px;top:197px;width:7px;height:8px;background:#c2c3c7"></div>
<div class="r" style="left:757px;top:205px;width:8px;height:8px;background:#e8edf3"></div>
<div class="r" style="left:765px;top:205px;width:8px;height:8px;background:#e3e6ec"></div>
<div class="r" style="left:773px;top:205px;width:8px;height:8px;background:#e5e9ef"></div>
<div class="r" style="left:781px;top:205px;width:8px;height:8px;background:#e6eaf0"></div>
<div class="r" style="left:789px;top:205px;width:8px;height:8px;background:#e8edf2"></div>
<div class="r" style="left:797px;top:205px;width:8px;height:8px;background:#e6eef2"></div>
<div class="r" style="left:757px;top:213px;width:8px;height:8px;background:#d0d1d3"></div>
<div class="r" style="left:765px;top:213px;width:8px;height:8px;background:#bfc3c9"></div>
<div class="r" style="left:773px;top:213px;width:8px;height:8px;background:#d1d2d6"></div>
<div class="r" style="left:781px;top:213px;width:8px;height:8px;background:#c6c7c9"></div>
<div class="r" style="left:789px;top:213px;width:8px;height:8px;background:#c6cacf"></div>
<div class="r" style="left:797px;top:213px;width:8px;height:8px;background:#cacbcf"></div>
<div class="r" style="left:805px;top:213px;width:8px;height:8px;background:#c3c6cb"></div>
<div class="r" style="left:813px;top:213px;width:8px;height:8px;background:#e6f0f7"></div>
<div class="r" style="left:757px;top:221px;width:8px;height:8px;background:#d9dadc"></div>
<div class="r" style="left:765px;top:221px;width:8px;height:8px;background:#c9ced4"></div>
<div class="r" style="left:773px;top:221px;width:8px;height:8px;background:#d3d9dd"></div>
<div class="r" style="left:781px;top:221px;width:8px;height:8px;background:#d0d2d4"></div>
<div class="r" style="left:789px;top:221px;width:8px;height:8px;background:#c9cbd1"></div>
<div class="r" style="left:797px;top:221px;width:8px;height:8px;background:#dfe6eb"></div>
<div class="r" style="left:805px;top:221px;width:8px;height:8px;background:#c8c8c8"></div>
<div class="r" style="left:813px;top:221px;width:8px;height:8px;background:#d8dde3"></div>
<div class="r" style="left:821px;top:221px;width:8px;height:8px;background:#e6ebf0"></div>
<div class="r" style="left:829px;top:221px;width:8px;height:8px;background:#c4c5c7"></div>
<div class="r" style="left:837px;top:221px;width:8px;height:8px;background:#d3d6dc"></div>
<div class="r" style="left:845px;top:221px;width:8px;height:8px;background:#d3d5d7"></div>
<div class="r" style="left:853px;top:221px;width:3px;height:8px;background:#e4ecf3"></div>
<div class="r" style="left:757px;top:229px;width:8px;height:8px;background:#e6e8ed"></div>
<div class="r" style="left:765px;top:229px;width:8px;height:8px;background:#d8dce2"></div>
<div class="r" style="left:773px;top:229px;width:8px;height:8px;background:#e3e9ed"></div>
<div class="r" style="left:781px;top:229px;width:8px;height:8px;background:#dfe3e6"></div>
<div class="r" style="left:789px;top:229px;width:8px;height:8px;background:#d8dce2"></div>
<div class="r" style="left:797px;top:229px;width:8px;height:8px;background:#e1e6ea"></div>
<div class="r" style="left:805px;top:229px;width:8px;height:8px;background:#e3e6e9"></div>
<div class="r" style="left:813px;top:229px;width:8px;height:8px;background:#e0e4ea"></div>
<div class="r" style="left:821px;top:229px;width:8px;height:8px;background:#e6ebf0"></div>
<div class="r" style="left:829px;top:229px;width:8px;height:8px;background:#dfe3e9"></div>
<div class="r" style="left:837px;top:229px;width:8px;height:8px;background:#e5e9ef"></div>
<div class="r" style="left:845px;top:229px;width:8px;height:8px;background:#e3e8eb"></div>
<div class="r" style="left:853px;top:229px;width:3px;height:8px;background:#e6eef4"></div>
<div class="r" style="left:757px;top:237px;width:8px;height:8px;background:#c2c4c8"></div>
<div class="r" style="left:765px;top:237px;width:8px;height:8px;background:#c2c4c4"></div>
<div class="r" style="left:773px;top:237px;width:8px;height:8px;background:#cbcbcf"></div>
<div class="r" style="left:781px;top:237px;width:8px;height:8px;background:#b8b9bb"></div>
<div class="r" style="left:789px;top:237px;width:8px;height:8px;background:#c2c9d1"></div>
<div class="r" style="left:797px;top:237px;width:8px;height:8px;background:#bcbdbf"></div>
<div class="r" style="left:805px;top:237px;width:8px;height:8px;background:#d7d9da"></div>
<div class="r" style="left:813px;top:237px;width:8px;height:8px;background:#c1c4c9"></div>
<div class="r" style="left:821px;top:237px;width:8px;height:8px;background:#c9ced3"></div>
<div class="r" style="left:829px;top:237px;width:8px;height:8px;background:#ccced0"></div>
<div class="r" style="left:837px;top:237px;width:8px;height:8px;background:#c8c9cb"></div>
<div class="r" style="left:845px;top:237px;width:8px;height:8px;background:#d6dde3"></div>
<div class="r" style="left:1148px;top:197px;width:8px;height:8px;background:#bfc1c6"></div>
<div class="r" style="left:1156px;top:197px;width:8px;height:8px;background:#c4c2c2"></div>
<div class="r" style="left:1164px;top:197px;width:8px;height:8px;background:#c8d1da"></div>
<div class="r" style="left:1148px;top:205px;width:8px;height:8px;background:#e5e9ef"></div>
<div class="r" style="left:1156px;top:205px;width:8px;height:8px;background:#e3e7ec"></div>
<div class="r" style="left:1164px;top:205px;width:8px;height:8px;background:#e5e9ed"></div>
<div class="r" style="left:1172px;top:205px;width:8px;height:8px;background:#ebeff4"></div>
<div class="r" style="left:1180px;top:205px;width:8px;height:8px;background:#e4e9ef"></div>
<div class="r" style="left:1148px;top:213px;width:8px;height:8px;background:#c0c2c4"></div>
<div class="r" style="left:1156px;top:213px;width:8px;height:8px;background:#c6cdd5"></div>
<div class="r" style="left:1164px;top:213px;width:8px;height:8px;background:#d0d4d6"></div>
<div class="r" style="left:1172px;top:213px;width:8px;height:8px;background:#c2c5cc"></div>
<div class="r" style="left:1180px;top:213px;width:8px;height:8px;background:#cdd2d5"></div>
<div class="r" style="left:1188px;top:213px;width:8px;height:8px;background:#c1c5ce"></div>
<div class="r" style="left:1196px;top:213px;width:8px;height:8px;background:#cdd1d8"></div>
<div class="r" style="left:1148px;top:221px;width:8px;height:8px;background:#d2d3d5"></div>
<div class="r" style="left:1156px;top:221px;width:8px;height:8px;background:#c9ced4"></div>
<div class="r" style="left:1164px;top:221px;width:8px;height:8px;background:#d6dbe1"></div>
<div class="r" style="left:1172px;top:221px;width:8px;height:8px;background:#d0d3d6"></div>
<div class="r" style="left:1180px;top:221px;width:8px;height:8px;background:#cad1d7"></div>
<div class="r" style="left:1188px;top:221px;width:8px;height:8px;background:#dde2e8"></div>
<div class="r" style="left:1196px;top:221px;width:8px;height:8px;background:#ced2da"></div>
<div class="r" style="left:1204px;top:221px;width:8px;height:8px;background:#d8dde3"></div>
<div class="r" style="left:1212px;top:221px;width:8px;height:8px;background:#e2e8ec"></div>
<div class="r" style="left:1220px;top:221px;width:8px;height:8px;background:#c3c7cd"></div>
<div class="r" style="left:1228px;top:221px;width:8px;height:8px;background:#dcdedf"></div>
<div class="r" style="left:1236px;top:221px;width:8px;height:8px;background:#d0dae2"></div>
<div class="r" style="left:1148px;top:229px;width:8px;height:8px;background:#e1e4e7"></div>
<div class="r" style="left:1156px;top:229px;width:8px;height:8px;background:#dadfe5"></div>
<div class="r" style="left:1164px;top:229px;width:8px;height:8px;background:#e6eaef"></div>
<div class="r" style="left:1172px;top:229px;width:8px;height:8px;background:#dde2e7"></div>
<div class="r" style="left:1180px;top:229px;width:8px;height:8px;background:#dde2e8"></div>
<div class="r" style="left:1188px;top:229px;width:8px;height:8px;background:#dfe4ea"></div>
<div class="r" style="left:1196px;top:229px;width:8px;height:8px;background:#dfe3e9"></div>
<div class="r" style="left:1204px;top:229px;width:8px;height:8px;background:#dfe5eb"></div>
<div class="r" style="left:1212px;top:229px;width:8px;height:8px;background:#e6ebf0"></div>
<div class="r" style="left:1220px;top:229px;width:8px;height:8px;background:#dfe4ea"></div>
<div class="r" style="left:1228px;top:229px;width:8px;height:8px;background:#e8ebee"></div>
<div class="r" style="left:1236px;top:229px;width:8px;height:8px;background:#dde5ed"></div>
<div class="r" style="left:1148px;top:237px;width:8px;height:8px;background:#bdbec1"></div>
<div class="r" style="left:1156px;top:237px;width:8px;height:8px;background:#c6ccd4"></div>
<div class="r" style="left:1164px;top:237px;width:8px;height:8px;background:#c5c9cb"></div>
<div class="r" style="left:1172px;top:237px;width:8px;height:8px;background:#c2c6c7"></div>
<div class="r" style="left:1180px;top:237px;width:8px;height:8px;background:#ccced1"></div>
<div class="r" style="left:1188px;top:237px;width:8px;height:8px;background:#cdd0d6"></div>
<div class="r" style="left:1196px;top:237px;width:8px;height:8px;background:#cfd3d8"></div>
<div class="r" style="left:1204px;top:237px;width:8px;height:8px;background:#cfd2d6"></div>
<div class="r" style="left:1212px;top:237px;width:8px;height:8px;background:#c5c5c1"></div>
<div class="r" style="left:1220px;top:237px;width:8px;height:8px;background:#d3dce5"></div>
<div class="r" style="left:1228px;top:237px;width:8px;height:8px;background:#bdbec6"></div>
<div class="r" style="left:1236px;top:237px;width:8px;height:8px;background:#e9f2f8"></div>
<div class="r" style="left:758px;top:284px;width:580px;height:1px;background:#dde3e9"></div>
<div class="t" style="left:759px;top:306px;font-family:'Liberation Sans', Arial, sans-serif;font-size:9px;line-height:9px;font-weight:bold;color:#333;letter-spacing:-0.12px">Invoice details</div>
<div class="t" style="left:758px;top:321px;font-family:'Liberation Sans', Arial, sans-serif;font-size:9px;line-height:9px;font-weight:normal;color:#333;letter-spacing:-0.17px">Invoice no.: 23-10061</div>
<div class="t" style="left:758px;top:333px;font-family:'Liberation Sans', Arial, sans-serif;font-size:9px;line-height:9px;font-weight:normal;color:#333;letter-spacing:-0.1px">Terms: 0</div>
<div class="t" style="left:758px;top:346px;font-family:'Liberation Sans', Arial, sans-serif;font-size:9px;line-height:9px;font-weight:normal;color:#333;letter-spacing:-0.06px">Invoice date: 10/20/2023</div>
<div class="t" style="left:758px;top:359px;font-family:'Liberation Sans', Arial, sans-serif;font-size:9px;line-height:9px;font-weight:normal;color:#333;letter-spacing:-0.07px">Due date: 10/20/2023</div>
<div class="t" style="left:752.5px;top:413px;font-family:'Liberation Sans', Arial, sans-serif;font-size:9px;line-height:9px;font-weight:bold;color:#333;letter-spacing:0">#</div>
<div class="t" style="left:773px;top:414px;font-family:'Liberation Sans', Arial, sans-serif;font-size:9px;line-height:9px;font-weight:bold;color:#333;">Date</div>
<div class="t" style="left:840px;top:414px;font-family:'Liberation Sans', Arial, sans-serif;font-size:9px;line-height:9px;font-weight:bold;color:#333;letter-spacing:-0.15px">Product or service</div>
<div class="t" style="left:1107px;top:414px;font-family:'Liberation Sans', Arial, sans-serif;font-size:9px;line-height:9px;font-weight:bold;color:#333;">SKU</div>
<div class="t" style="right:203px;top:414px;font-family:'Liberation Sans', Arial, sans-serif;font-size:9px;line-height:9px;font-weight:bold;color:#333;">Qty</div>
<div class="t" style="right:149px;top:414px;font-family:'Liberation Sans', Arial, sans-serif;font-size:9px;line-height:9px;font-weight:bold;color:#333;">Rate</div>
<div class="t" style="right:80px;top:414px;font-family:'Liberation Sans', Arial, sans-serif;font-size:9px;line-height:9px;font-weight:bold;color:#333;">Amount</div>
<div class="r" style="left:772px;top:432px;width:557px;height:1px;background:#dde0e3"></div>
<div class="t" style="left:753px;top:442px;font-family:'Liberation Sans', Arial, sans-serif;font-size:9px;line-height:9px;font-weight:normal;color:#333;">1.</div>
<div class="t" style="left:839px;top:442px;font-family:'Liberation Sans', Arial, sans-serif;font-size:9px;line-height:9px;font-weight:bold;color:#333;">CE-</div>
<div class="r" style="left:853px;top:441px;width:8px;height:4px;background:#d3cfcf"></div>
<div class="r" style="left:861px;top:441px;width:8px;height:4px;background:#c9ccd1"></div>
<div class="r" style="left:869px;top:441px;width:6px;height:4px;background:#d6d8d9"></div>
<div class="r" style="left:853px;top:445px;width:8px;height:6px;background:#b6b2b2"></div>
<div class="r" style="left:861px;top:445px;width:8px;height:6px;background:#b5babd"></div>
<div class="r" style="left:869px;top:445px;width:6px;height:6px;background:#cfd0d2"></div>
<div class="r" style="left:837px;top:455px;width:7px;height:6px;background:#f1f0ef"></div>
<div class="r" style="left:844px;top:455px;width:8px;height:6px;background:#f0f0f0"></div>
<div class="r" style="left:852px;top:455px;width:8px;height:6px;background:#eaecec"></div>
<div class="r" style="left:860px;top:455px;width:8px;height:6px;background:#e8e8e6"></div>
<div class="r" style="left:868px;top:455px;width:8px;height:6px;background:#e8e9eb"></div>
<div class="r" style="left:876px;top:455px;width:8px;height:6px;background:#f0f0f0"></div>
<div class="r" style="left:884px;top:455px;width:8px;height:6px;background:#ececec"></div>
<div class="r" style="left:892px;top:455px;width:8px;height:6px;background:#efefed"></div>
<div class="r" style="left:837px;top:461px;width:7px;height:8px;background:#e2dede"></div>
<div class="r" style="left:844px;top:461px;width:8px;height:8px;background:#e5e5e5"></div>
<div class="r" style="left:852px;top:461px;width:8px;height:8px;background:#dfe2e3"></div>
<div class="r" style="left:860px;top:461px;width:8px;height:8px;background:#dadada"></div>
<div class="r" style="left:868px;top:461px;width:8px;height:8px;background:#e4e4e6"></div>
<div class="r" style="left:876px;top:461px;width:8px;height:8px;background:#d6d3d4"></div>
<div class="r" style="left:884px;top:461px;width:8px;height:8px;background:#dcdcda"></div>
<div class="r" style="left:892px;top:461px;width:8px;height:8px;background:#d5d6da"></div>
<div class="t" style="right:203px;top:442px;font-family:'Liberation Sans', Arial, sans-serif;font-size:9px;line-height:9px;font-weight:normal;color:#333;">1</div>
<div class="t" style="right:141px;top:442px;font-family:'Liberation Sans', Arial, sans-serif;font-size:9px;line-height:9px;font-weight:normal;color:#333;letter-spacing:-0.2px;margin-right:0.2px">$8,000.00</div>
<div class="t" style="right:80px;top:442px;font-family:'Liberation Sans', Arial, sans-serif;font-size:9px;line-height:9px;font-weight:normal;color:#333;letter-spacing:-0.2px;margin-right:0.2px">$8,000.00</div>
<div class="r" style="left:752px;top:477px;width:577px;height:1px;background:#dde0e3"></div>
<div class="t" style="left:1167px;top:491px;font-family:'Liberation Sans', Arial, sans-serif;font-size:9px;line-height:9px;font-weight:bold;color:#333;">Total</div>
<div class="t" style="right:79px;top:489px;font-family:'Liberation Sans', Arial, sans-serif;font-size:13px;line-height:13px;font-weight:bold;color:#333;letter-spacing:-0.1px">$8,000.00</div>
<div class="r" style="left:1166px;top:513px;width:163px;height:1px;background:#dde0e3"></div>
</body></html>
